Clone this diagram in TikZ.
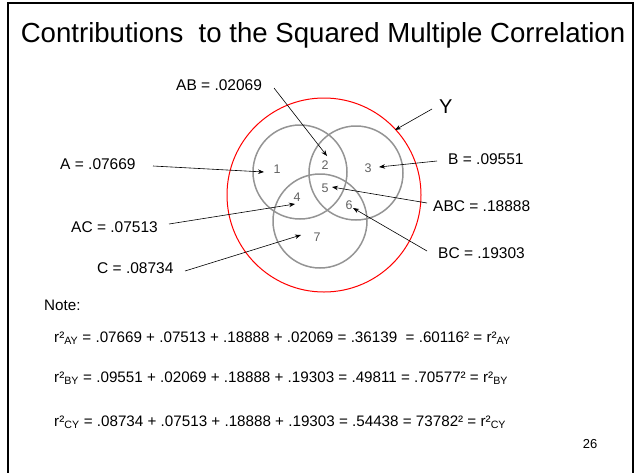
\documentclass[tikz,border=0pt]{standalone}
\usepackage{fontspec}
\setmainfont{Liberation Sans}
\usetikzlibrary{arrows.meta}
\begin{document}
\begin{tikzpicture}[x=1pt,y=-1pt,
  lbl/.style={inner sep=0pt, font=\fontsize{15.5}{18}\selectfont},
  num/.style={inner sep=0pt, text=black!62, font=\fontsize{12.5}{14}\selectfont},
  venn/.style={draw=black!42, line width=1.5pt},
  arr/.style={-{Stealth[length=6pt,width=4.5pt]}, line width=0.6pt},
  eq/.style={anchor=west, inner sep=0pt, font=\fontsize{15.2}{18}\selectfont}]
\useasboundingbox (0,0) rectangle (636,472);
\draw[line width=2pt] (8,3) rectangle (633,485);
\node[inner sep=0pt, font=\fontsize{27.6}{32}\selectfont] (title) at (323,35) {Contributions\ \ to the Squared Multiple Correlation};
% circles
\draw[red, line width=1pt] (324,195) circle (97pt);
\draw[venn] (300,172) circle (47pt);
\draw[venn] (356,173) circle (47pt);
\draw[venn] (320,221) circle (47pt);
% region numbers
\node[num] (n1) at (277,169) {1};
\node[num] (n2) at (325,165) {2};
\node[num] (n3) at (368,168) {3};
\node[num] (n4) at (297,197) {4};
\node[num] (n5) at (325,188) {5};
\node[num] (n6) at (349,205) {6};
\node[num] (n7) at (317,237) {7};
% labels
\node[lbl, anchor=west] (lAB) at (176,85) {AB = .02069};
\node[lbl, anchor=west, font=\fontsize{20}{24}\selectfont] (lY) at (439,107) {Y};
\node[lbl, anchor=west] (lA) at (60,164) {A = .07669};
\node[lbl, anchor=west] (lB) at (448,159) {B = .09551};
\node[lbl, anchor=west] (lABC) at (433,206) {ABC = .18888};
\node[lbl, anchor=west] (lAC) at (71,227) {AC = .07513};
\node[lbl, anchor=west] (lBC) at (438,253) {BC = .19303};
\node[lbl, anchor=west] (lC) at (97,268) {C = .08734};
% arrow ends
\coordinate (sAB) at (274,88);   \coordinate (tAB) at (327,156);
\coordinate (sY) at (432,109);   \coordinate (tY) at (395,130);
\coordinate (sA) at (153,166);   \coordinate (tA) at (264,172);
\coordinate (sB) at (437,161);   \coordinate (tB) at (379,167);
\coordinate (sABC) at (427,203); \coordinate (tABC) at (332,187);
\coordinate (sAC) at (169,224);  \coordinate (tAC) at (295,204);
\coordinate (sBC) at (427,251);  \coordinate (tBC) at (353,208);
\coordinate (sC) at (185,271);   \coordinate (tC) at (301,235);
\foreach \k in {AB,Y,A,B,ABC,AC,BC,C} \draw[arr] (s\k) -- (t\k);
% notes
\node[eq] (note) at (44,305) {Note:};
\node[eq] (e1) at (54,338) {r²\textsubscript{AY} = .07669 + .07513 + .18888 + .02069 = .36139\ \ = .60116² = r²\textsubscript{AY}};
\node[eq] (e2) at (54,378) {r²\textsubscript{BY} = .09551 + .02069 + .18888 + .19303 = .49811 = .70577² = r²\textsubscript{BY}};
\node[eq] (e3) at (54,422) {r²\textsubscript{CY} = .08734 + .07513 + .18888 + .19303 = .54438 = 73782² = r²\textsubscript{CY}};
\node[inner sep=0pt, font=\fontsize{13}{15}\selectfont] (page) at (590,444) {26};
\end{tikzpicture}
\end{document}
